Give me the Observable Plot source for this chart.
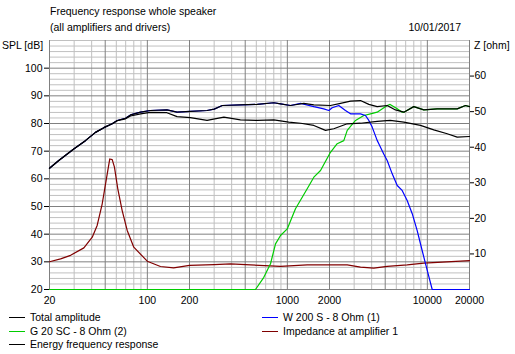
<!DOCTYPE html>
<html>
<head>
<meta charset="utf-8">
<script src="https://cdn.jsdelivr.net/npm/d3@7"></script>
<script src="https://cdn.jsdelivr.net/npm/@observablehq/plot@0.6"></script>
<style>
  html, body { margin: 0; padding: 0; background: #fff; }
  #wrap { position: relative; width: 515px; height: 354px; overflow: hidden;
          font-family: "Liberation Sans", Arial, sans-serif; font-size: 10.5px; color: #000; }
  #wrap svg { position: absolute; left: 0; top: 0; }
  .t { position: absolute; line-height: 12px; white-space: nowrap; }
  .sw { position: absolute; height: 1px; width: 16px; }
</style>
</head>
<body>
<div id="wrap"></div>
<script>
// ---- Data ----
const title = "Frequency response whole speaker";
const subtitle = "(all amplifiers and drivers)";
const dateText = "10/01/2017";

const xTickLabels = [20, 50, 100, 200, 500, 1000, 2000, 5000, 10000, 20000];
const xMinorLines = [30, 40, 60, 70, 80, 90, 300, 400, 600, 700, 800, 900, 3000, 4000, 6000, 7000, 8000, 9000];
const yTickLabels = [20, 30, 40, 50, 60, 70, 80, 90, 100];
const zTickLabels = [10, 20, 30, 40, 50, 60];

// Total amplitude (dB)
const totalFreq = [20, 23.3, 29.8, 36.1, 42.6, 48.9, 56.1, 60.9, 69.8, 75.8, 89.4, 105, 138, 163, 203, 267, 300, 343, 462, 609, 800, 894, 1052, 1310, 1546, 2032, 2398, 2826, 3330, 3820, 4380, 5164, 5920, 6792, 8000, 9434, 11750, 16340, 18720, 20000];
const totalDb   = [63.8, 66.6, 70.8, 73.8, 76.8, 78.5, 79.9, 81.1, 81.9, 83.1, 84.1, 84.7, 84.9, 84.1, 84.4, 84.7, 85.2, 86.5, 86.7, 86.9, 87.5, 87.1, 86.5, 87.3, 86.7, 86.5, 87.3, 88.1, 88.3, 86.9, 86.1, 86.5, 84.9, 84.1, 86.1, 84.9, 85.3, 85.3, 86.5, 86.1];

// Energy frequency response (dB)
const energyFreq = [20, 23.3, 29.8, 36.1, 42.6, 48.9, 56.1, 60.9, 69.8, 75.8, 89.4, 105, 138, 163, 203, 267, 352, 462, 609, 800, 1024, 1245, 1546, 1873, 2146, 2677, 3330, 4380, 5420, 6792, 8934, 11120, 13860, 16340, 20000];
const energyDb   = [63.8, 66.6, 70.8, 73.8, 76.8, 78.5, 79.9, 81.0, 81.7, 82.7, 83.5, 84.0, 83.9, 82.5, 82.1, 81.1, 82.3, 81.3, 81.1, 81.3, 80.5, 80.1, 79.3, 77.5, 78.1, 79.9, 80.1, 80.8, 81.1, 80.5, 79.3, 77.7, 76.3, 75.1, 75.3];

// W 200 S - 8 Ohm (1) (dB)
const wooferFreq = [20, 23.3, 29.8, 36.1, 42.6, 48.9, 56.1, 60.9, 69.8, 75.8, 89.4, 105, 138, 163, 203, 267, 300, 343, 462, 609, 800, 894, 1052, 1245, 1546, 1820, 1978, 2090, 2330, 2600, 2826, 3330, 3614, 3820, 4036, 4380, 4500, 4880, 5164, 5610, 6092, 6605, 7174, 7798, 8460, 9180, 9980, 10830, 20000];
const wooferDb   = [63.8, 66.6, 70.8, 73.8, 76.8, 78.5, 79.9, 81.1, 81.9, 83.1, 84.1, 84.7, 84.9, 84.1, 84.4, 84.7, 85.2, 86.5, 86.7, 86.9, 87.5, 87.1, 86.5, 87.3, 86.1, 85.3, 84.7, 85.7, 86.5, 84.7, 83.5, 83.5, 82.9, 81.1, 78.7, 73.9, 72.7, 69.0, 66.6, 61.8, 57.6, 55.8, 52.2, 47.4, 41.3, 34.1, 26.9, 20, 20];

// G 20 SC - 8 Ohm (2) (dB)
const tweeterFreq = [20, 592, 679, 758, 823, 894, 998, 1143, 1386, 1546, 1726, 2032, 2270, 2530, 2677, 3068, 3516, 3926, 4380, 5164, 5420, 6092, 6605, 6792, 8000, 9434, 11750, 16340, 18720, 20000];
const tweeterDb   = [20, 20, 24.4, 29.3, 36.5, 39.5, 41.9, 49.2, 56.4, 60.6, 63.0, 69.6, 72.7, 73.8, 77.5, 81.1, 82.9, 83.5, 84.1, 86.5, 86.9, 85.3, 84.1, 84.1, 86.1, 84.9, 85.3, 85.3, 86.5, 86.1];

// Impedance at amplifier 1 (ohm)
const impFreq = [20, 24, 28.3, 35.2, 40.4, 43.8, 47.6, 51.7, 53.9, 56.1, 58.2, 61.5, 66.1, 71.8, 80, 99.8, 124, 154, 200, 300, 393, 546, 894, 1386, 2677, 3330, 4140, 5164, 7174, 9434, 17240, 20000];
const impOhm  = [7.8, 8.6, 9.6, 11.7, 14.7, 18.0, 24.1, 32.5, 36.7, 36.5, 34.4, 28.3, 22.2, 16.6, 11.9, 7.96, 6.47, 6.1, 6.8, 7.0, 7.2, 6.9, 6.5, 6.9, 6.9, 6.3, 6.0, 6.5, 6.9, 7.4, 8.0, 8.1];

// ---- Scales: SPL 20..110 dB on the left, Z 0..70 ohm on the right ----
const dbMin = 20, dbMax = 110, zMax = 70;
const zToDb = z => dbMin + z * (dbMax - dbMin) / zMax;
const dbToZ = d => (d - dbMin) * zMax / (dbMax - dbMin);

const zip = (fs, vs) => fs.map((f, i) => ({f, v: vs[i]}));
const total = zip(totalFreq, totalDb);
const energy = zip(energyFreq, energyDb);
const woofer = zip(wooferFreq, wooferDb);
const tweeter = zip(tweeterFreq, tweeterDb);
const imp = zip(impFreq, impOhm);

const minorDb = d3.range(22, 111, 2).filter(d => d % 10 !== 0 || d === 110);
const majorDb = yTickLabels;
const majorX = xTickLabels;

const LIGHT = "#c0c0c0", DARK = "#808080";

const chart = Plot.plot({
  width: 515,
  height: 354,
  marginLeft: 49,
  marginRight: 46,
  marginTop: 40,
  marginBottom: 65,
  style: {fontFamily: '"Liberation Sans", Arial, sans-serif', fontSize: "10.5px", color: "#000", background: "transparent", overflow: "visible"},
  x: {type: "log", domain: [20, 20000]},
  y: {domain: [dbMin, dbMax]},
  marks: [
    Plot.ruleY(minorDb, {stroke: LIGHT, strokeWidth: 1}),
    Plot.ruleX(xMinorLines, {stroke: LIGHT, strokeWidth: 1}),
    Plot.ruleY(majorDb, {stroke: DARK, strokeWidth: 1}),
    Plot.ruleX(majorX, {stroke: DARK, strokeWidth: 1}),
    Plot.axisX({ticks: xTickLabels, tickFormat: d => String(d), tickSize: 0, tickPadding: 7, label: null}),
    Plot.axisY({ticks: yTickLabels, tickFormat: d => String(d), tickSize: 5, tickPadding: 2, label: null, stroke: "#000"}),
    Plot.axisY({anchor: "right", ticks: zTickLabels.map(zToDb), tickFormat: d => String(Math.round(dbToZ(d))), tickSize: 4, tickPadding: 1, label: null}),
    Plot.line(imp, {x: "f", y: d => zToDb(d.v), stroke: "#800000", strokeWidth: 1.2}),
    Plot.line(tweeter, {x: "f", y: "v", stroke: "#00cc00", strokeWidth: 1.2}),
    Plot.line(woofer, {x: "f", y: "v", stroke: "#0000ff", strokeWidth: 1.2}),
    Plot.line(energy, {x: "f", y: "v", stroke: "#000", strokeWidth: 1.2}),
    Plot.line(total, {x: "f", y: "v", stroke: "#000", strokeWidth: 1.2})
  ]
});

const wrap = document.getElementById("wrap");
wrap.appendChild(chart);

function addText(txt, css) {
  const d = document.createElement("div");
  d.className = "t";
  d.textContent = txt;
  Object.assign(d.style, css);
  wrap.appendChild(d);
}
function addSwatch(color, left, top) {
  const d = document.createElement("div");
  d.className = "sw";
  d.style.left = left + "px";
  d.style.top = top + "px";
  d.style.background = color;
  wrap.appendChild(d);
}
addText(title, {left: "50px", top: "5px"});
addText(subtitle, {left: "50px", top: "21px"});
addText(dateText, {right: "54px", top: "21px"});
addText("SPL [dB]", {left: "2px", top: "39px"});
addText("Z [ohm]", {left: "474px", top: "39px"});

const legend = [
  {label: "Total amplitude", color: "#000", col: 0, row: 0},
  {label: "W 200 S - 8 Ohm (1)", color: "#0000ff", col: 1, row: 0},
  {label: "G 20 SC - 8 Ohm (2)", color: "#00cc00", col: 0, row: 1},
  {label: "Impedance at amplifier 1", color: "#800000", col: 1, row: 1},
  {label: "Energy frequency response", color: "#000", col: 0, row: 2}
];
const rowY = [317, 331, 344];
const colX = [9, 262];
for (const it of legend) {
  const cy = rowY[it.row];
  addSwatch(it.color, colX[it.col], cy);
  addText(it.label, {left: (colX[it.col] + 21) + "px", top: (cy - 6) + "px"});
}
</script>
</body>
</html>
